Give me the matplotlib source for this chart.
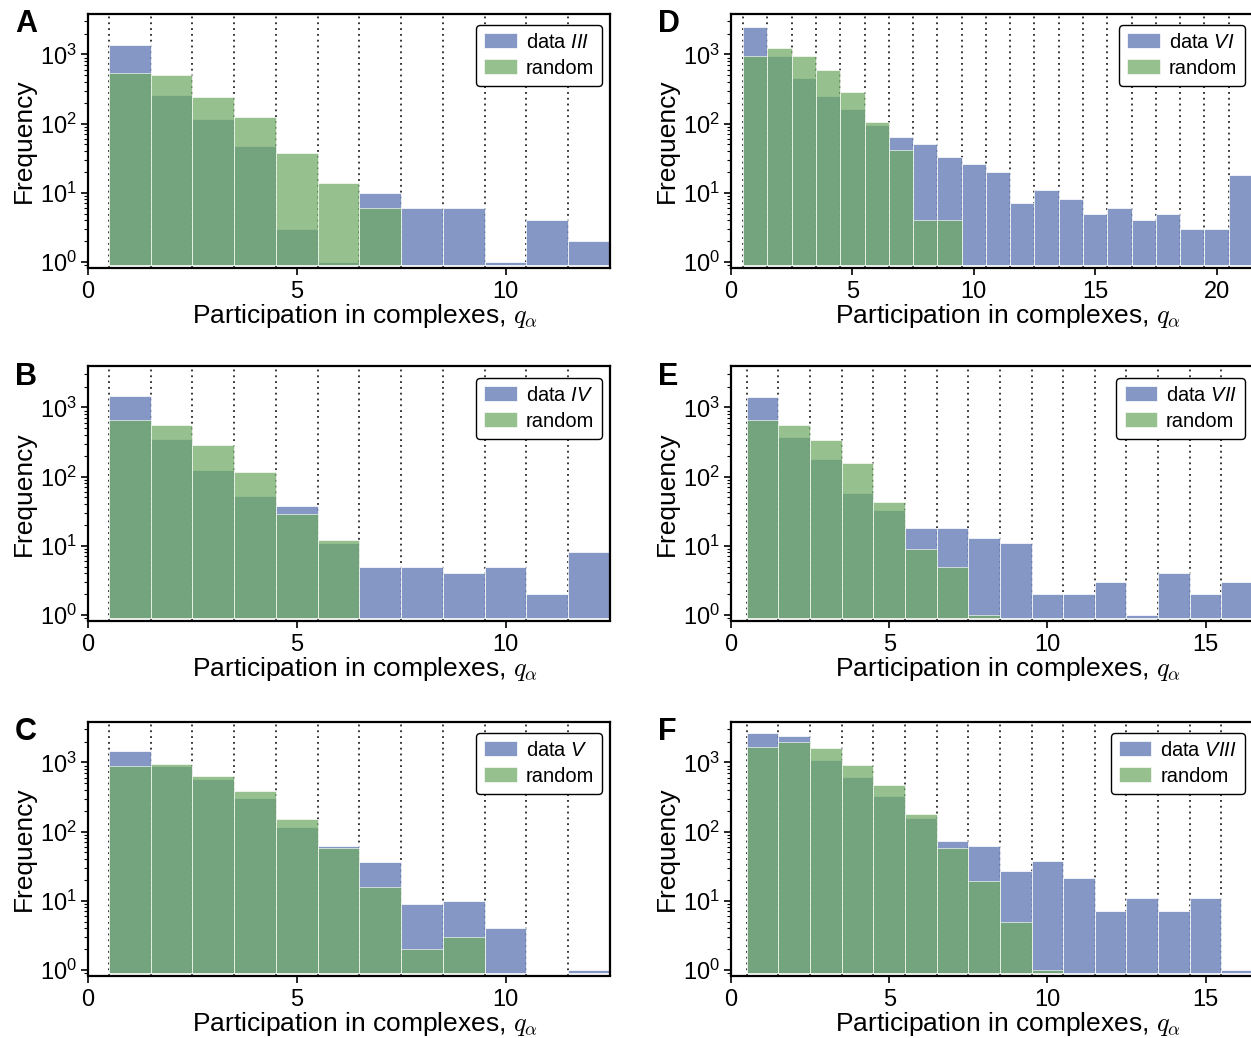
import matplotlib

matplotlib.use("Agg")
import matplotlib.pyplot as plt
from matplotlib.ticker import MultipleLocator

# counts per participation value q = 1, 2, 3, ...
DATA_III = [1370, 255, 118, 47, 3, 1, 10, 6, 6, 1, 4, 2]
RAND_III = [540, 510, 245, 125, 37, 14, 6]
DATA_IV = [1460, 350, 124, 52, 38, 11, 5, 5, 4, 5, 2, 8]
RAND_IV = [650, 550, 285, 115, 29, 12]
DATA_V = [1440, 875, 580, 305, 118, 62, 36, 9, 10, 4, 0, 1]
RAND_V = [895, 950, 640, 385, 152, 58, 16, 2, 3]
DATA_VI = [2500, 960, 450, 250, 165, 95, 63, 51, 33, 26, 20, 7, 11, 8, 5, 6, 4, 5, 3, 3, 18]
RAND_VI = [960, 1230, 940, 590, 285, 105, 42, 4, 4]
DATA_VII = [1420, 370, 180, 58, 33, 18, 18, 13, 11, 2, 2, 3, 1, 4, 2, 3]
RAND_VII = [660, 560, 335, 155, 43, 9, 5, 1]
DATA_VIII = [2700, 2430, 1070, 610, 325, 158, 74, 62, 27, 37, 21, 7, 11, 7, 11, 1]
RAND_VIII = [1650, 2000, 1620, 910, 475, 180, 58, 19, 5, 1]

PANELS = [
    ("A", "III", DATA_III, RAND_III, 12),
    ("B", "IV", DATA_IV, RAND_IV, 12),
    ("C", "V", DATA_V, RAND_V, 12),
    ("D", "VI", DATA_VI, RAND_VI, 21),
    ("E", "VII", DATA_VII, RAND_VII, 16),
    ("F", "VIII", DATA_VIII, RAND_VIII, 16),
]

BLUE = "#7085ba"
GREEN = "#6fa964"
BASE = 0.9

plt.rcParams["font.family"] = ["Liberation Sans", "DejaVu Sans"]
plt.rcParams["mathtext.fontset"] = "custom"
plt.rcParams["mathtext.rm"] = "Liberation Sans"
plt.rcParams["mathtext.it"] = "Liberation Sans:italic"
plt.rcParams["mathtext.bf"] = "Liberation Sans:bold"

W, H = 1251, 1038
fig = plt.figure(figsize=(W / 100, H / 100), dpi=100)

tops = [13.5, 366.5, 721.5]
lefts = [88, 731]
ax_w, ax_h = 522, 254


def draw(ax, letter, roman, data, rand, nbins):
    # dotted guides on every bin edge
    for k in range(nbins):
        ax.axvline(k + 0.5, color="k", ls=(0, (1.2, 2.6)), lw=1.1, zorder=0.5)
    q = list(range(1, len(data) + 1))
    hd = [max(v - BASE, 0) for v in data]
    ax.bar(q, hd, width=1, bottom=BASE, color=BLUE, alpha=0.85,
           edgecolor="white", linewidth=0.6, zorder=1,
           label=f"data $\\mathit{{{roman}}}$")
    qr = list(range(1, len(rand) + 1))
    hr = [max(v - BASE, 0) for v in rand]
    ax.bar(qr, hr, width=1, bottom=BASE, color=GREEN, alpha=0.73,
           edgecolor="white", linewidth=0.6, zorder=2, label="random")
    ax.set_yscale("log")
    ax.set_ylim(0.83, 3900)
    ax.set_xlim(0, nbins + 0.5)
    ax.xaxis.set_major_locator(MultipleLocator(5))
    ax.tick_params(axis="both", which="major", direction="out", length=5,
                   width=1.2, labelsize=17, pad=3)
    ax.tick_params(axis="x", which="major", pad=5)
    ax.tick_params(axis="y", which="minor", direction="out", length=3, width=0.8)
    for s in ax.spines.values():
        s.set_linewidth(1.6)
    ax.set_ylabel("Frequency", fontsize=19)
    ax.yaxis.set_label_coords(-0.1, 0.5)
    ax.set_xlabel("Participation in complexes, $q_\\alpha$", fontsize=19,
                  math_fontfamily="cm")
    ax.xaxis.set_label_coords(0.53, -0.135)
    leg = ax.legend(loc="upper right", fontsize=14.5, frameon=True, fancybox=True,
                    framealpha=1, edgecolor="black", handlelength=1.6,
                    handleheight=0.8, handletextpad=0.45, borderpad=0.4,
                    labelspacing=0.35, borderaxespad=0,
                    bbox_to_anchor=(1 - 8 / 522, 1 - 11 / 254))
    leg.get_frame().set_linewidth(1.0)
    ax.text(-0.14, 0.96, letter, transform=ax.transAxes, fontsize=22,
            fontweight="bold", ha="left", va="center")


for i, (letter, roman, data, rand, nbins) in enumerate(PANELS):
    col, row = divmod(i, 3)
    left = lefts[col]
    top = tops[row]
    ax = fig.add_axes([left / W, 1 - (top + ax_h) / H, ax_w / W, ax_h / H])
    draw(ax, letter, roman, data, rand, nbins)

fig.savefig("out.png", dpi=100)
